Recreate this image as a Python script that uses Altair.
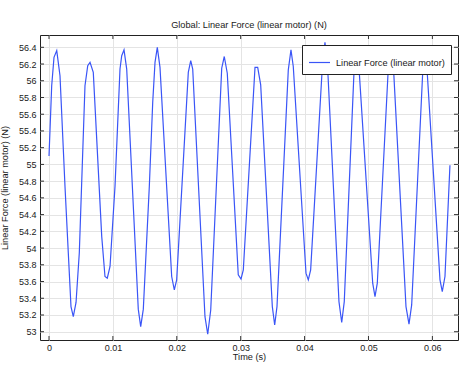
import altair as alt
import pandas as pd

# ---- data ----
time_s = [0.0, 0.00042, 0.00078, 0.00121, 0.00172, 0.00250, 0.00302, 0.00344, 0.00380, 0.00423,
          0.00474, 0.00563, 0.00606, 0.00642, 0.00693, 0.00825, 0.00876, 0.00912, 0.00955, 0.01033,
          0.01111, 0.01138, 0.01174, 0.01216, 0.01397, 0.01435, 0.01476, 0.01570, 0.01623, 0.01659,
          0.01695, 0.01737, 0.01920, 0.01961, 0.01998, 0.02180, 0.02218, 0.02249, 0.02441, 0.02484,
          0.02531, 0.02703, 0.02743, 0.02790, 0.02962, 0.03005, 0.03041, 0.03224, 0.03266, 0.03313,
          0.03495, 0.03532, 0.03568, 0.03745, 0.03787, 0.03823, 0.04022, 0.04058, 0.04095, 0.04280,
          0.04319, 0.04358, 0.04538, 0.04581, 0.04621, 0.04773, 0.04815, 0.04856, 0.05066, 0.05102,
          0.05138, 0.05310, 0.05352, 0.05395, 0.05587, 0.05634, 0.05676, 0.05848, 0.05884, 0.05920,
          0.06119, 0.06155, 0.06197, 0.06275]
force_N = [55.10, 55.94, 56.28, 56.36, 56.06, 54.74, 53.94, 53.30, 53.18, 53.35,
           53.94, 55.94, 56.18, 56.22, 56.10, 54.14, 53.66, 53.64, 53.78, 54.74,
           56.14, 56.30, 56.37, 56.14, 53.27, 53.06, 53.27, 54.74, 55.74, 56.22,
           56.40, 56.16, 53.66, 53.50, 53.62, 56.10, 56.24, 56.14, 53.18, 52.97,
           53.26, 56.15, 56.29, 56.09, 53.68, 53.63, 53.74, 56.16, 56.16, 55.95,
           53.30, 53.08, 53.30, 56.13, 56.37, 56.17, 53.70, 53.62, 53.74, 56.20,
           56.46, 56.20, 53.36, 53.11, 53.36, 56.10, 56.25, 56.10, 53.58, 53.42,
           53.58, 56.15, 56.30, 56.10, 53.30, 53.09, 53.32, 56.09, 56.20, 56.09,
           53.62, 53.48, 53.66, 54.99]
x_ticks = [0.0, 0.01, 0.02, 0.03, 0.04, 0.05, 0.06]
y_ticks = [53.0, 53.2, 53.4, 53.6, 53.8, 54.0, 54.2, 54.4, 54.6, 54.8,
           55.0, 55.2, 55.4, 55.6, 55.8, 56.0, 56.2, 56.4]
series_name = "Linear Force (linear motor)"
chart_title = "Global: Linear Force (linear motor) (N)"
x_title = "Time (s)"
y_title = "Linear Force (linear motor) (N)"

FONT = "Liberation Sans"
TXT = "#1a1a1a"
LINE = "#3a55f7"
W, H = 418, 305
TL = 4  # inward tick length

df = pd.DataFrame({"t": time_s, "F": force_N, "series": series_name})
xdf = pd.DataFrame({"t": x_ticks})
ydf = pd.DataFrame({"F": y_ticks})

xs = alt.Scale(domain=[-0.00141, 0.06401], nice=False, zero=False)
ys = alt.Scale(domain=[52.901, 56.547], nice=False, zero=False)

line = alt.Chart(df).mark_line(strokeWidth=1.2).encode(
    x=alt.X("t:Q", scale=xs, axis=alt.Axis(
        values=x_ticks, tickCount=20, format=".2~f", title=x_title, grid=True, ticks=False,
        domain=False, labelPadding=3, labelOverlap=False, titleX=209, titleY=19,
        titleBaseline="alphabetic", titleAlign="center")),
    y=alt.Y("F:Q", scale=ys, axis=alt.Axis(
        values=y_ticks, tickCount=40, format=".1~f", title=y_title, grid=True, ticks=False,
        domain=False, labelPadding=4, labelOverlap=False, titleX=-33, titleY=152.5,
        titleAngle=270, titleAlign="center", titleBaseline="alphabetic")),
    color=alt.Color("series:N", scale=alt.Scale(range=[LINE]), legend=alt.Legend(
        title=None, orient="none", legendX=262, legendY=10, symbolType="stroke",
        symbolSize=441, symbolStrokeWidth=1.2, labelFont=FONT, labelFontSize=9.2,
        labelColor=TXT, labelOffset=5, padding=6, fillColor="white", strokeColor="#222",
        cornerRadius=0)),
)

left_ticks = alt.Chart(ydf).mark_rule(color="#333", strokeWidth=1).encode(
    y=alt.Y("F:Q", scale=ys), x=alt.value(0), x2=alt.value(TL))
right_ticks = alt.Chart(ydf).mark_rule(color="#333", strokeWidth=1).encode(
    y=alt.Y("F:Q", scale=ys), x=alt.value(W - TL), x2=alt.value(W))
bottom_ticks = alt.Chart(xdf).mark_rule(color="#333", strokeWidth=1).encode(
    x=alt.X("t:Q", scale=xs), y=alt.value(H - TL), y2=alt.value(H))
top_ticks = alt.Chart(xdf).mark_rule(color="#333", strokeWidth=1).encode(
    x=alt.X("t:Q", scale=xs), y=alt.value(0), y2=alt.value(TL))

chart = alt.layer(line, left_ticks, right_ticks, bottom_ticks, top_ticks).properties(
    width=W, height=H,
    padding={"left": 40, "top": 35, "right": 8, "bottom": 26},
    autosize=alt.AutoSizeParams(type="none"),
    title=alt.TitleParams(chart_title, font=FONT, fontSize=9.2, fontWeight="normal",
                          color=TXT, offset=4, anchor="middle"),
).configure_view(
    stroke="#222", strokeWidth=1
).configure_axis(
    labelFont=FONT, labelFontSize=9, labelColor=TXT,
    titleFont=FONT, titleFontSize=9.2, titleFontWeight="normal", titleColor=TXT,
    gridColor="#e4e4e4", gridWidth=1,
)

chart.save("out.html", embed_options={"renderer": "svg", "actions": False})
